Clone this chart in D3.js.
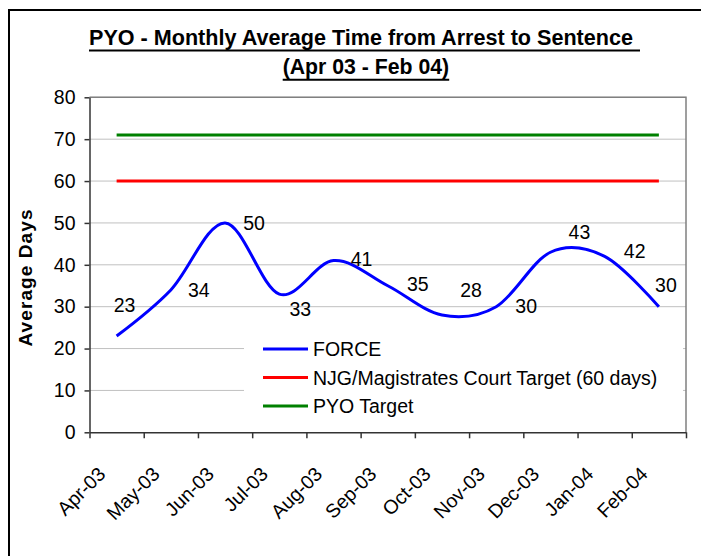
<!DOCTYPE html>
<html>
<head>
<meta charset="utf-8">
<script src="https://cdn.jsdelivr.net/npm/d3@7"></script>
<style>
  body { margin: 0; background: #fff; }
  svg { display: block; font-family: "Liberation Sans", Arial, sans-serif; }
</style>
</head>
<body>
<div class="container"></div>
<script>
// data
const months = ['Apr-03', 'May-03', 'Jun-03', 'Jul-03', 'Aug-03', 'Sep-03',
  'Oct-03', 'Nov-03', 'Dec-03', 'Jan-04', 'Feb-04']
const force = [23, 34, 50, 33, 41, 35, 28, 30, 43, 42, 30]
const njgTarget = [60, 60, 60, 60, 60, 60, 60, 60, 60, 60, 60]
const pyoTarget = [71, 71, 71, 71, 71, 71, 71, 71, 71, 71, 71]
const yTicks = [0, 10, 20, 30, 40, 50, 60, 70, 80]
const seriesNames = ['FORCE', 'NJG/Magistrates Court Target (60 days)', 'PYO Target']

function LineChart() {
  const W = 701
  const H = 556
  const PLOT = { LEFT: 89.5, RIGHT: 686, TOP: 97.3, BOTTOM: 432.3 }
  const COLORS = ['#0000ff', '#ff0000', '#008000']
  const FONT_FAMILY = '"Liberation Sans", Arial, sans-serif'
  const FONT = 19.5

  // where Excel put each value label, relative to its point
  const labelOffset = [[8, -24], [28, 7], [29, 7], [21, 22], [28, 5], [30, 5],
    [29, -18], [30, 6], [29, -13], [30, 2], [7, -15]]

  const svg = d3.select('.container')
    .append('svg')
    .attr('width', W)
    .attr('height', H)
    .attr('font-family', FONT_FAMILY)

  // chart border
  svg.append('rect')
    .attr('x', 9).attr('y', 10)
    .attr('width', 720).attr('height', 580)
    .attr('fill', '#fff')
    .attr('stroke', '#000')
    .attr('stroke-width', 2)

  const x = d3.scaleBand()
    .domain(months)
    .range([PLOT.LEFT, PLOT.RIGHT])
  const cx = m => x(m) + x.bandwidth() / 2
  const xEdge = d3.scaleLinear()
    .domain([0, months.length])
    .range([PLOT.LEFT, PLOT.RIGHT])
  const y = d3.scaleLinear()
    .domain([0, 80])
    .range([PLOT.BOTTOM, PLOT.TOP])

  // gridlines
  svg.append('g')
    .selectAll('line')
    .data(yTicks.slice(1))
    .enter()
      .append('line')
      .attr('x1', PLOT.LEFT).attr('x2', PLOT.RIGHT)
      .attr('y1', d => y(d)).attr('y2', d => y(d))
      .attr('stroke', '#c0c0c0')
      .attr('stroke-width', 1)

  // plot area border (top/right)
  svg.append('path')
    .attr('d', `M${PLOT.LEFT},${PLOT.TOP}H${PLOT.RIGHT}V${PLOT.BOTTOM}`)
    .attr('fill', 'none')
    .attr('stroke', '#808080')
    .attr('stroke-width', 1.5)

  // axes
  const yAxis = svg.append('g')
    .attr('transform', `translate(${PLOT.LEFT},0)`)
    .call(d3.axisLeft(y).tickValues(yTicks).tickSize(5).tickPadding(9).tickSizeOuter(0))
  yAxis.attr('font-family', FONT_FAMILY)
  yAxis.selectAll('text')
    .attr('font-size', FONT)
    .attr('fill', '#000')

  svg.append('g')
    .attr('transform', `translate(0,${PLOT.BOTTOM})`)
    .call(d3.axisBottom(xEdge).tickValues(d3.range(months.length + 1)).tickFormat('').tickSize(6).tickSizeOuter(0))

  svg.selectAll('.domain, .tick line')
    .attr('stroke', '#333')
    .attr('stroke-width', 1.5)

  // month labels
  svg.append('g')
    .selectAll('text')
    .data(months)
    .enter()
      .append('text')
      .text(d => d)
      .attr('font-size', FONT)
      .attr('text-anchor', 'end')
      .attr('transform', d => `translate(${cx(d) - 10},${PLOT.BOTTOM + 43}) rotate(-45)`)

  // y axis title
  svg.append('text')
    .text('Average Days')
    .attr('font-size', 19)
    .attr('font-weight', 'bold')
    .attr('text-anchor', 'middle')
    .attr('textLength', 137)
    .attr('lengthAdjust', 'spacing')
    .attr('transform', 'translate(32,278) rotate(-90)')

  // legend box hides gridlines behind it
  const legend = svg.append('g')
  legend.append('rect')
    .attr('x', 244).attr('y', 331)
    .attr('width', 439).attr('height', 90)
    .attr('fill', '#fff')

  // lines
  const lineSmooth = d3.line()
    .x((d, i) => cx(months[i]))
    .y(d => y(d))
    .curve(d3.curveCatmullRom.alpha(0))
  const lineStraight = d3.line()
    .x((d, i) => cx(months[i]))
    .y(d => y(d))

  svg.append('path')
    .attr('d', lineStraight(pyoTarget))
    .attr('fill', 'none')
    .attr('stroke', COLORS[2])
    .attr('stroke-width', 3)
  svg.append('path')
    .attr('d', lineStraight(njgTarget))
    .attr('fill', 'none')
    .attr('stroke', COLORS[1])
    .attr('stroke-width', 3)
  svg.append('path')
    .attr('d', lineSmooth(force))
    .attr('fill', 'none')
    .attr('stroke', COLORS[0])
    .attr('stroke-width', 3)
    .attr('stroke-linejoin', 'round')

  // value labels
  svg.append('g')
    .selectAll('text')
    .data(force)
    .enter()
      .append('text')
      .text(d => d)
      .attr('font-size', FONT)
      .attr('text-anchor', 'middle')
      .attr('x', (d, i) => cx(months[i]) + labelOffset[i][0])
      .attr('y', (d, i) => y(d) + labelOffset[i][1])

  // legend entries
  const entries = legend.selectAll('.entry')
    .data(seriesNames)
    .enter()
      .append('g')
      .attr('transform', (d, i) => `translate(263,${349 + i * 28.5})`)
  entries.append('line')
    .attr('x1', 0).attr('x2', 45)
    .attr('stroke', (d, i) => COLORS[i])
    .attr('stroke-width', 3)
  entries.append('text')
    .text(d => d)
    .attr('x', 50)
    .attr('y', 7)
    .attr('font-size', FONT)

  // title, underlined
  const titles = [
    { text: 'PYO - Monthly Average Time from Arrest to Sentence', x: 89, y: 45, w: 544, uw: 551 },
    { text: '(Apr 03 - Feb 04)', x: 282.7, y: 74.3, w: 166.5, uw: 166.5 },
  ]
  titles.forEach(t => {
    svg.append('text')
      .text(t.text)
      .attr('x', t.x)
      .attr('y', t.y)
      .attr('font-size', 21.4)
      .attr('font-weight', 'bold')
      .attr('textLength', t.w)
      .attr('lengthAdjust', 'spacingAndGlyphs')
    svg.append('line')
      .attr('x1', t.x).attr('x2', t.x + t.uw)
      .attr('y1', t.y + 5.5).attr('y2', t.y + 5.5)
      .attr('stroke', '#000')
      .attr('stroke-width', 2)
  })
}

LineChart()
</script>
</body>
</html>
